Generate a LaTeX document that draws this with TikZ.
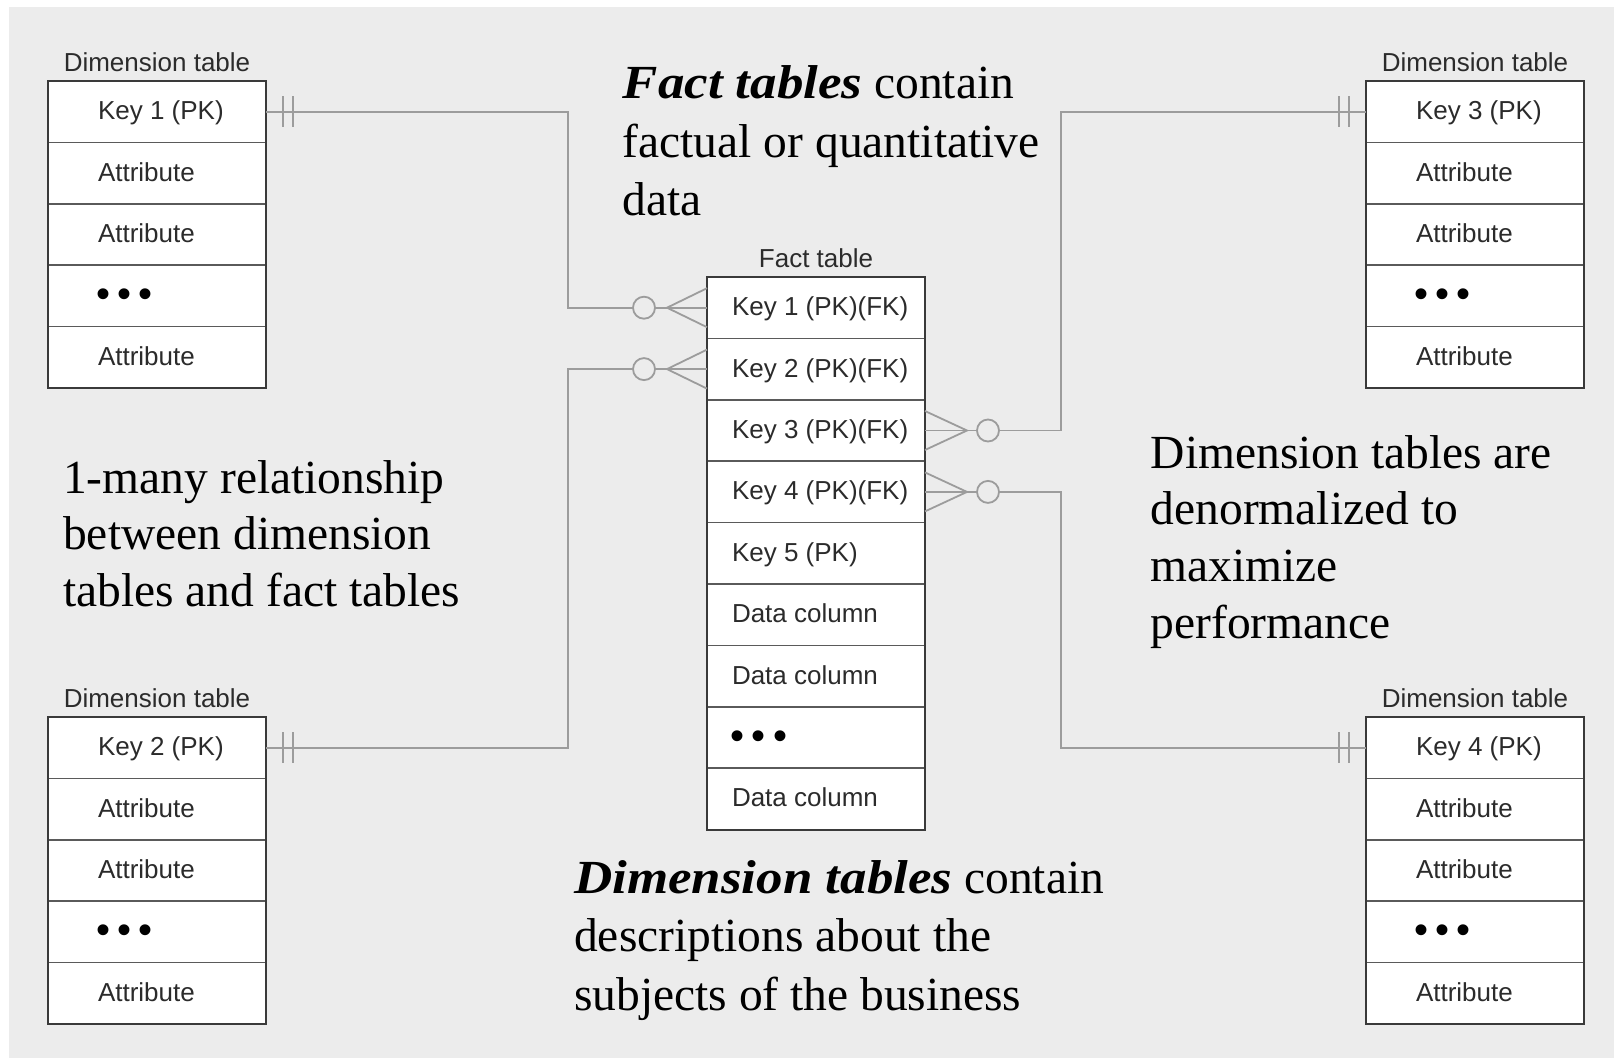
\documentclass[tikz,border=0pt]{standalone}
\usepackage{fontspec}
\usepackage{graphicx}
\setmainfont{Liberation Serif}
\newfontfamily\tabfont{Liberation Sans}
\definecolor{bgcol}{HTML}{ECECEC}
\definecolor{conngray}{HTML}{9C9C9C}
\definecolor{rowline}{HTML}{5A5A5A}
\definecolor{bordercol}{HTML}{3A3A3A}
\definecolor{tabtext}{HTML}{2B2B2B}
\tikzset{
  rowbox/.style={draw=rowline, line width=1.5pt, fill=white, anchor=north west,
    inner sep=0pt, outer sep=0pt, minimum width=218pt, minimum height=61.4pt,
    text height=17pt, text depth=1pt, text=tabtext,
    font=\tabfont\fontsize{26}{30}\selectfont},
  border/.style={draw=bordercol, line width=2.2pt},
  lbl/.style={anchor=base, inner sep=0pt, text=tabtext,
    font=\tabfont\fontsize{26}{30}\selectfont},
  conn/.style={draw=conngray, line width=1.8pt},
  ring/.style={draw=conngray, line width=1.8pt, fill=bgcol},
  bigtext/.style={anchor=base west, inner sep=0pt, text=black},
}
\newcommand{\rowtext}[2]{\makebox[218pt][l]{\hspace{#1}#2}}
\newcommand{\bulrow}{\raisebox{-3.5pt}{\fontsize{40}{40}\selectfont\color{black}•\hspace{7.5pt}•\hspace{7.5pt}•}}
\newcommand{\bi}[1]{\scalebox{1.115}[1]{\textbf{\textit{#1}}}}
\newcommand{\dimtab}[4]{%
  \node[rowbox] (#1a) at (#2,#3) {\rowtext{50pt}{#4}};
  \node[rowbox] (#1b) at (#1a.south west) {\rowtext{50pt}{Attribute}};
  \node[rowbox] (#1c) at (#1b.south west) {\rowtext{50pt}{Attribute}};
  \node[rowbox] (#1d) at (#1c.south west) {\rowtext{48pt}{\bulrow}};
  \node[rowbox] (#1e) at (#1d.south west) {\rowtext{50pt}{Attribute}};
  \draw[border] (#1a.north west) rectangle (#1e.south east);
  \node[lbl] (#1l) at ([yshift=10pt]#1a.north) {Dimension table};
}
\begin{document}
\begin{tikzpicture}[x=1pt, y=-1pt]
\useasboundingbox (0,0) rectangle (1614,1058);
\fill[white] (0,0) rectangle (1614,1058);
\fill[bgcol] (9,7) rectangle (1614,1058);

% dimension tables
\dimtab{da}{48}{81}{Key 1 (PK)}
\dimtab{db}{48}{717}{Key 2 (PK)}
\dimtab{dc}{1366}{81}{Key 3 (PK)}
\dimtab{dd}{1366}{717}{Key 4 (PK)}

% fact table
\node[rowbox] (f1) at (707,277) {\rowtext{25pt}{Key 1 (PK)(FK)}};
\node[rowbox] (f2) at (f1.south west) {\rowtext{25pt}{Key 2 (PK)(FK)}};
\node[rowbox] (f3) at (f2.south west) {\rowtext{25pt}{Key 3 (PK)(FK)}};
\node[rowbox] (f4) at (f3.south west) {\rowtext{25pt}{Key 4 (PK)(FK)}};
\node[rowbox] (f5) at (f4.south west) {\rowtext{25pt}{Key 5 (PK)}};
\node[rowbox] (f6) at (f5.south west) {\rowtext{25pt}{Data column}};
\node[rowbox] (f7) at (f6.south west) {\rowtext{25pt}{Data column}};
\node[rowbox] (f8) at (f7.south west) {\rowtext{23pt}{\bulrow}};
\node[rowbox] (f9) at (f8.south west) {\rowtext{25pt}{Data column}};
\draw[border] (f1.north west) rectangle (f9.south east);
\node[lbl] (fl) at ([yshift=10pt]f1.north) {Fact table};

% connector routing columns
\coordinate (lx) at (568,0);
\coordinate (rx) at (1061,0);

\draw[conn] (daa.east) -- (daa.east -| lx) |- (f1.west);
\draw[conn] (f2.west) -- (f2.west -| lx) |- (dba.east);
\draw[conn] (f3.east) -- (f3.east -| rx) |- (dca.west);
\draw[conn] (f4.east) -- (f4.east -| rx) |- (dda.west);

% "one" bars
\foreach \n in {daa, dba}{
  \draw[conn] ([xshift=17pt,yshift=15.5pt]\n.east) -- ([xshift=17pt,yshift=-15.5pt]\n.east);
  \draw[conn] ([xshift=27pt,yshift=15.5pt]\n.east) -- ([xshift=27pt,yshift=-15.5pt]\n.east);
}
\foreach \n in {dca, dda}{
  \draw[conn] ([xshift=-17pt,yshift=15.5pt]\n.west) -- ([xshift=-17pt,yshift=-15.5pt]\n.west);
  \draw[conn] ([xshift=-27pt,yshift=15.5pt]\n.west) -- ([xshift=-27pt,yshift=-15.5pt]\n.west);
}

% crow's feet and circles (many, optional)
\foreach \n in {f1, f2}{
  \draw[conn] ([yshift=19.5pt]\n.west) -- ([xshift=-40pt]\n.west) -- ([yshift=-19.5pt]\n.west);
  \draw[ring] ([xshift=-63pt]\n.west) circle (11pt);
}
\foreach \n in {f3, f4}{
  \draw[conn] ([yshift=19.5pt]\n.east) -- ([xshift=42pt]\n.east) -- ([yshift=-19.5pt]\n.east);
  \draw[ring] ([xshift=63pt]\n.east) circle (11pt);
}

% explanatory texts
\node[bigtext] (t1) at (622.5,98.5) {\fontsize{47.5}{58.7}\selectfont\parbox[t]{480pt}{\raggedright
  \bi{Fact tables} contain\\factual or quantitative\\data}};
\node[bigtext] (t2) at (63,493) {\fontsize{47.5}{56.8}\selectfont\parbox[t]{460pt}{\raggedright
  1-many relationship\\between dimension\\tables and fact tables}};
\node[bigtext] (t3) at (1150.5,468) {\fontsize{47.5}{56.7}\selectfont\parbox[t]{460pt}{\raggedright
  Dimension tables are\\denormalized to\\maximize\\performance}};
\node[bigtext] (t4) at (574,893) {\fontsize{47.5}{58.5}\selectfont\parbox[t]{600pt}{\raggedright
  \bi{Dimension tables} contain\\descriptions about the\\subjects of the business}};
\end{tikzpicture}
\end{document}
